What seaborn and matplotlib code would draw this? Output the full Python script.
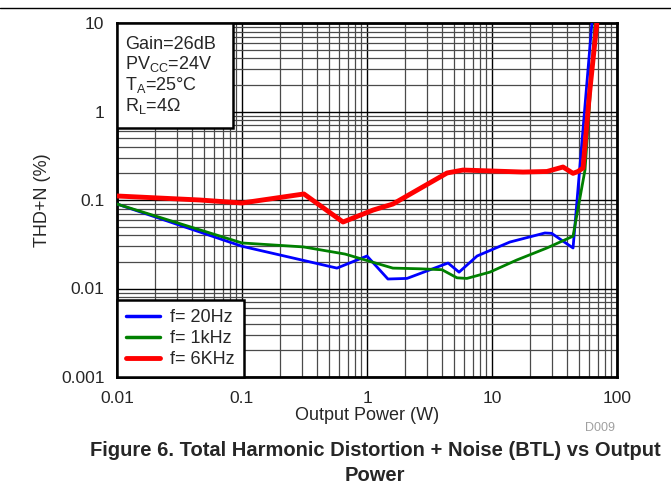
import matplotlib
matplotlib.use("Agg")
import matplotlib.pyplot as plt
from matplotlib.lines import Line2D
from matplotlib.patches import Rectangle
from matplotlib.ticker import LogLocator, NullFormatter, FixedLocator, FixedFormatter
import seaborn as sns
import pandas as pd

# values (Output power W, THD+N %)
p_20hz = [0.01, 0.1, 0.575, 1.0, 1.47, 2.09, 4.45, 5.45, 7.6, 13.9, 26.5, 30, 44.5, 63]
thd_20hz = [0.09, 0.030, 0.017, 0.0233, 0.0128, 0.013, 0.0194, 0.0153, 0.0233, 0.0335, 0.0424, 0.042, 0.0287, 10]

p_1khz = [0.01, 0.1, 0.31, 0.667, 1.61, 2.65, 3.98, 5.25, 6.3, 9.6, 15.8, 27.5, 44.5, 55.5, 66.7]
thd_1khz = [0.09, 0.0327, 0.0295, 0.0245, 0.017, 0.0167, 0.0163, 0.0132, 0.013, 0.0153, 0.021, 0.0287, 0.039, 0.22, 10]

p_6khz = [0.01, 0.046, 0.1, 0.313, 0.643, 1.12, 1.61, 4.37, 5.86, 17.7, 27.5, 37, 44.5, 48.7, 53.5, 60, 69]
thd_6khz = [0.111, 0.1, 0.0925, 0.117, 0.0564, 0.077, 0.09, 0.202, 0.218, 0.207, 0.21, 0.236, 0.20, 0.21, 0.23, 1.5, 10]

series = ["f= 20Hz", "f= 1kHz", "f= 6KHz"]

df = pd.concat([
    pd.DataFrame({"power": p_20hz, "thd": thd_20hz, "series": series[0]}),
    pd.DataFrame({"power": p_1khz, "thd": thd_1khz, "series": series[1]}),
    pd.DataFrame({"power": p_6khz, "thd": thd_6khz, "series": series[2]}),
], ignore_index=True)

sns.set_style("white")
plt.rcParams["font.family"] = ["Liberation Sans", "DejaVu Sans"]
plt.rcParams["mathtext.fontset"] = "custom"
plt.rcParams["mathtext.rm"] = "Liberation Sans"
plt.rcParams["mathtext.it"] = "Liberation Sans:italic"

fig = plt.figure(figsize=(6.71, 4.93), dpi=100)
ax = fig.add_axes([117 / 671, 1 - 377 / 493, 500 / 671, 354 / 493])

palette = {series[0]: "#0000ff", series[1]: "#008000", series[2]: "#ff0000"}
sns.lineplot(data=df, x="power", y="thd", hue="series", palette=palette, sort=False,
             estimator=None, ax=ax, legend=False, zorder=5)
widths = [2.0, 2.0, 3.5]
for line, lw in zip(ax.get_lines(), widths):
    line.set_linewidth(lw)
    line.set_solid_joinstyle("round")

ax.set_xscale("log")
ax.set_yscale("log")
ax.set_xlim(0.01, 100)
ax.set_ylim(0.001, 10)

ax.xaxis.set_major_locator(FixedLocator([0.01, 0.1, 1, 10, 100]))
ax.xaxis.set_major_formatter(FixedFormatter(["0.01", "0.1", "1", "10", "100"]))
ax.yaxis.set_major_locator(FixedLocator([0.001, 0.01, 0.1, 1, 10]))
ax.yaxis.set_major_formatter(FixedFormatter(["0.001", "0.01", "0.1", "1", "10"]))
for axis in (ax.xaxis, ax.yaxis):
    axis.set_minor_locator(LogLocator(base=10, subs=range(2, 10), numticks=20))
    axis.set_minor_formatter(NullFormatter())

ax.grid(True, which="major", color="black", linewidth=1.0)
ax.grid(True, which="minor", color="#4a4a4a", linewidth=0.9)
ax.set_axisbelow(True)
ax.tick_params(which="both", length=0, labelsize=12.5)
ax.tick_params(axis="x", pad=10)
ax.tick_params(axis="y", pad=9)
for s in ax.spines.values():
    s.set_linewidth(2)
    s.set_color("black")

ax.set_xlabel("Output Power (W)", fontsize=13, labelpad=1)
ax.set_ylabel("THD+N (%)", fontsize=13, labelpad=7)

# condition box
ax.add_patch(Rectangle((0, 1 - 105 / 354), 116 / 500, 105 / 354, transform=ax.transAxes,
                       facecolor="white", edgecolor="black", linewidth=1.8, zorder=10))
ax.text(8 / 500, 1 - 13 / 354,
        "Gain=26dB\nPV$_\\mathregular{CC}$=24V\nT$_\\mathregular{A}$=25°C\nR$_\\mathregular{L}$=4Ω",
        transform=ax.transAxes, va="top", ha="left", fontsize=13, linespacing=1.06, zorder=11)

handles = [Line2D([], [], color=palette[s], linewidth=2.5 if i < 2 else 3.5) for i, s in enumerate(series)]
leg = ax.legend(handles, series, loc="lower left", bbox_to_anchor=(0, 0), borderaxespad=0,
                fancybox=False, framealpha=1, edgecolor="black", fontsize=13,
                handlelength=1.9, handletextpad=0.55, labelspacing=0.22, borderpad=0.5)
leg.get_frame().set_linewidth(1.8)
leg.set_zorder(12)

fig.add_artist(Line2D([0, 1], [1 - 8 / 493, 1 - 8 / 493], color="black", linewidth=1))
fig.text(600 / 671, 1 - 428 / 493, "D009", color="#a0a0a0", fontsize=9, ha="center", va="center")
fig.text(375 / 671, 1 - 463 / 493,
         "Figure 6. Total Harmonic Distortion + Noise (BTL) vs Output\nPower",
         ha="center", va="center", fontsize=14.5, fontweight="bold", linespacing=1.35)

fig.savefig("out.png", dpi=100)
